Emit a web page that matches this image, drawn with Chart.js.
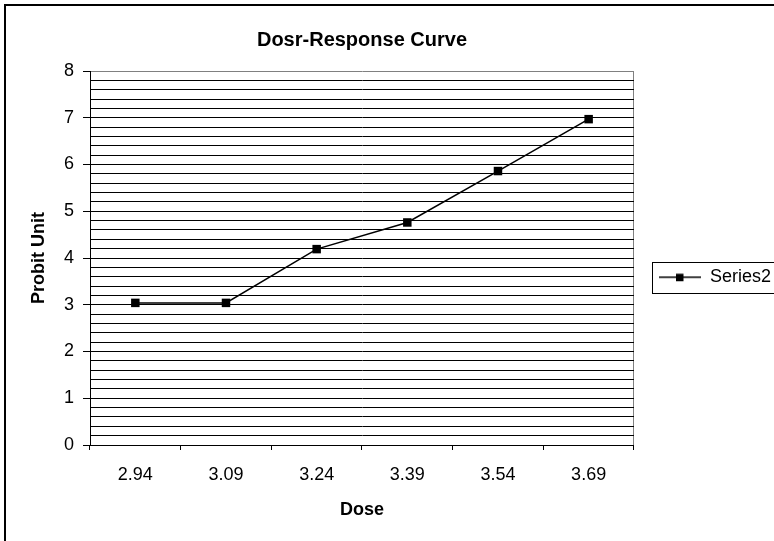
<html>
<head>
<style>
  body { margin: 0; background: #fff; }
</style>
</head>
<body>
<canvas id="myChart" width="774" height="541"></canvas>
<script src="https://cdn.jsdelivr.net/npm/chart.js"></script>
<script>
const doses = ['2.94', '3.09', '3.24', '3.39', '3.54', '3.69'];
const probits = [3.04, 3.04, 4.19, 4.76, 5.86, 6.97];
const seriesName = 'Series2';

const FONT = "'Liberation Sans', Arial, sans-serif";

// little line-with-square marker for the legend entry
const legendMark = document.createElement('canvas');
legendMark.width = 42;
legendMark.height = 10;
(function () {
  const c = legendMark.getContext('2d');
  c.strokeStyle = '#000';
  c.lineWidth = 1.5;
  c.beginPath();
  c.moveTo(0, 5);
  c.lineTo(42, 5);
  c.stroke();
  c.fillStyle = '#000';
  c.fillRect(17, 1.5, 7.5, 7.5);
})();

// outer frame of the whole chart + box round the legend
const frames = {
  id: 'frames',
  beforeDraw(chart) {
    const ctx = chart.ctx;
    ctx.save();
    ctx.strokeStyle = '#000';
    ctx.lineWidth = 2;
    ctx.strokeRect(5, 5, 800, 600);
    ctx.restore();
  },
  afterDraw(chart) {
    const hb = chart.legend.legendHitBoxes[0];
    if (!hb) return;
    const ctx = chart.ctx;
    const cy = hb.top + hb.height / 2;
    ctx.save();
    ctx.strokeStyle = '#000';
    ctx.lineWidth = 1;
    ctx.strokeRect(Math.round(hb.left - 7) + 0.5, Math.round(cy - 15.5) + 0.5, 200, 31);
    ctx.restore();
  }
};

const isWhole = v => Math.abs(v - Math.round(v)) < 1e-6;

const data = {
  labels: doses,
  datasets: [{
    label: seriesName,
    data: probits,
    borderColor: '#000',
    backgroundColor: '#000',
    borderWidth: 1.5,
    pointStyle: 'rect',
    pointRadius: 6,
    pointBorderWidth: 0,
    tension: 0
  }]
};

const config = {
  type: 'line',
  data: data,
  plugins: [frames],
  options: {
    responsive: false,
    animation: false,
    layout: { padding: { left: 5, top: 5, right: -7, bottom: 0 } },
    plugins: {
      title: {
        display: true,
        text: 'Dosr-Response Curve',
        color: '#000',
        fullSize: false,
        font: { family: FONT, size: 20, weight: 'bold' },
        padding: { top: 23, bottom: 19 }
      },
      legend: {
        display: true,
        position: 'right',
        title: {
          display: true,
          text: ' ',
          padding: 0,
          font: { family: FONT, size: 7 }
        },
        labels: {
          color: '#000',
          font: { family: FONT, size: 18 },
          usePointStyle: true,
          pointStyle: legendMark,
          pointStyleWidth: 42,
          padding: 25
        }
      },
      tooltip: { enabled: false }
    },
    scales: {
      x: {
        type: 'category',
        offset: true,
        afterFit: s => { s.height = 96; },
        grid: {
          offset: true,
          drawOnChartArea: true,
          color: c => (c.type === 'tick' ? 'rgba(0,0,0,0)' : '#808080'),
          tickColor: '#000',
          tickLength: 5
        },
        border: { color: '#000', width: 1 },
        ticks: {
          color: '#000',
          font: { family: FONT, size: 18 },
          padding: 14,
          maxRotation: 0
        },
        title: {
          display: true,
          text: 'Dose',
          color: '#000',
          font: { family: FONT, size: 18, weight: 'bold' },
          padding: { top: 0, bottom: 20 }
        }
      },
      y: {
        min: 0,
        max: 8,
        afterFit: s => { s.width = 85; },
        grid: {
          color: c => (c.tick && isWhole(c.tick.value) && Math.round(c.tick.value) === 8 ? '#808080' : '#000'),
          tickColor: c => (c.tick && isWhole(c.tick.value) ? '#000' : 'rgba(0,0,0,0)'),
          tickLength: 7
        },
        border: { color: '#000', width: 1 },
        ticks: {
          stepSize: 0.2,
          autoSkip: false,
          color: '#000',
          font: { family: FONT, size: 18 },
          padding: 9,
          callback: v => (isWhole(v) ? String(Math.round(v)) : '')
        },
        title: {
          display: true,
          text: 'Probit Unit',
          color: '#000',
          font: { family: FONT, size: 18, weight: 'bold' },
          padding: { top: 23, bottom: 0 }
        }
      }
    }
  }
};

const myChart = new Chart(
  document.getElementById('myChart'),
  config
);
</script>
</body>
</html>
